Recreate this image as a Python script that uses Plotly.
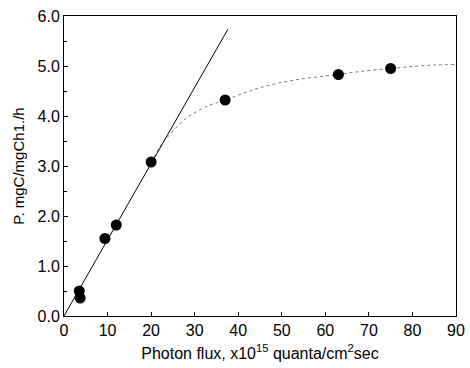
import plotly.graph_objects as go

# Measured data points
flux = [3.5, 3.7, 9.4, 12.0, 20.0, 37.0, 63.0, 75.0]
prod = [0.50, 0.36, 1.55, 1.82, 3.08, 4.32, 4.83, 4.95]

# Initial slope line
lin_x = [0.0, 37.6]
lin_y = [0.0, 5.73]

# Saturation curve
curve_x = [20, 22, 24.5, 28, 32.5, 37, 42, 46, 53, 60, 63, 68, 75, 80, 85, 90]
curve_y = [3.07, 3.38, 3.65, 3.95, 4.18, 4.32, 4.48, 4.59, 4.72, 4.80, 4.83, 4.89, 4.95, 4.99, 5.02, 5.03]

y_ticks = [0, 1, 2, 3, 4, 5, 6]
y_ticklabels = ["0.0", "1.0", "2.0", "3.0", "4.0", "5.0", "6.0"]
x_ticks = [0, 10, 20, 30, 40, 50, 60, 70, 80, 90]

fig = go.Figure()
fig.add_trace(go.Scatter(x=curve_x, y=curve_y, mode="lines",
                         line=dict(color="#777777", width=1, dash="dot", shape="spline"),
                         hoverinfo="skip"))
fig.add_trace(go.Scatter(x=lin_x, y=lin_y, mode="lines",
                         line=dict(color="black", width=1), hoverinfo="skip"))
fig.add_trace(go.Scatter(x=flux, y=prod, mode="markers",
                         marker=dict(color="black", size=11)))

font = dict(family="Liberation Sans, Arial, sans-serif", size=16, color="black")
fig.update_layout(
    width=470, height=368,
    margin=dict(l=64, r=14, t=16, b=52),
    paper_bgcolor="white", plot_bgcolor="white",
    showlegend=False,
    font=font,
    xaxis=dict(range=[0, 90], tickvals=x_ticks, ticks="inside", ticklen=4,
               tickcolor="black", showline=True, linecolor="black", linewidth=1,
               mirror=True, showgrid=False, zeroline=False, automargin=False,
               tickfont=dict(size=16),
               title=dict(text="Photon flux, x10<sup>15</sup> quanta/cm<sup>2</sup>sec",
                          font=dict(size=16), standoff=9)),
    yaxis=dict(range=[0, 6], tickvals=y_ticks, ticktext=y_ticklabels,
               ticks="inside", ticklen=4, tickcolor="black",
               minor=dict(dtick=0.5, ticks="inside", ticklen=3, tickcolor="black"),
               showline=True, linecolor="black", linewidth=1, mirror=True,
               showgrid=False, zeroline=False, automargin=False,
               tickfont=dict(size=16),
               title=dict(text="P. mgC/mgCh1./h", font=dict(size=15), standoff=9)),
)
fig.write_html("out.html", config={"displayModeBar": False},
               post_script="document.body.style.margin='0';document.body.style.overflow='hidden';")
